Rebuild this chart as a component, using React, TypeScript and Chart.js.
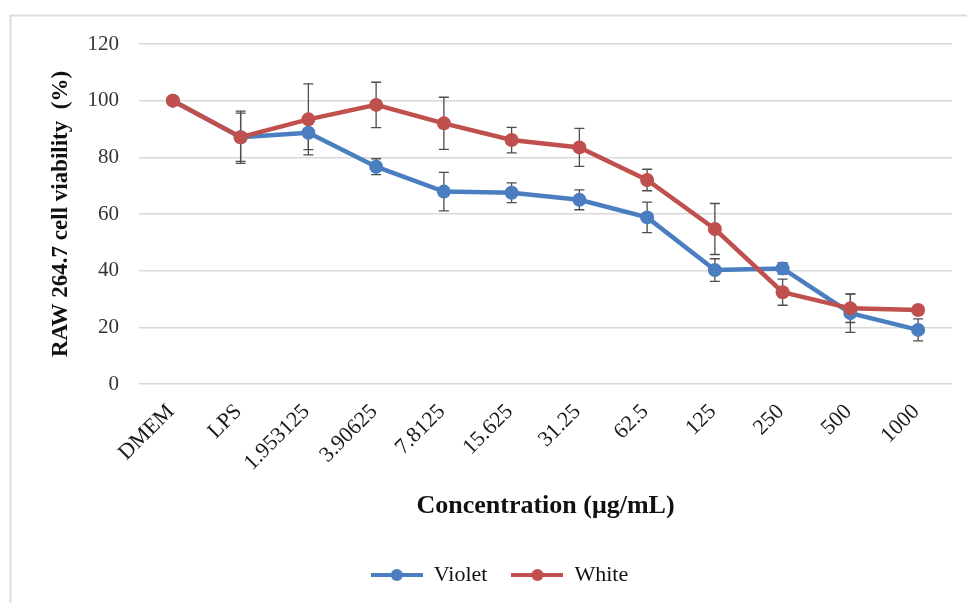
import React, { useEffect, useRef } from "react";
import { Chart, registerables } from "chart.js";

Chart.register(...registerables);

const categories = ["DMEM", "LPS", "1.953125", "3.90625", "7.8125", "15.625", "31.25", "62.5", "125", "250", "500", "1000"];
const violetValues = [100, 87.1, 88.7, 76.7, 67.9, 67.5, 65.0, 58.8, 40.2, 40.8, 25.0, 19.1];
const violetErrors = [0, 8.5, 6.0, 2.8, 6.8, 3.5, 3.5, 5.4, 4.0, 2.0, 6.8, 3.9];
const whiteValues = [100, 87.1, 93.4, 98.5, 92.0, 86.1, 83.5, 72.0, 54.7, 32.4, 26.7, 26.1];
const whiteErrors = [0, 9.2, 12.5, 8.0, 9.2, 4.5, 6.7, 3.8, 9.0, 4.6, 5.0, 1.5];
const yTicks = [0, 20, 40, 60, 80, 100, 120];

const BLUE = "#4A7EC0";
const RED = "#C0504D";
const SERIF = "'Liberation Serif', 'Times New Roman', serif";

// Legend icon: a short line with a round marker in the middle
function makeLegendIcon(color: string): HTMLCanvasElement {
  const c = document.createElement("canvas");
  c.width = 52;
  c.height = 14;
  const g = c.getContext("2d")!;
  g.strokeStyle = color;
  g.lineWidth = 4;
  g.beginPath();
  g.moveTo(0, 7);
  g.lineTo(52, 7);
  g.stroke();
  g.fillStyle = color;
  g.beginPath();
  g.arc(26, 7, 6, 0, Math.PI * 2);
  g.fill();
  return c;
}

// Vertical error bars with caps, drawn beneath the lines and markers
const errorBarPlugin = {
  id: "errorBars",
  beforeDatasetsDraw(chart: any) {
    const { ctx } = chart;
    const yScale = chart.scales.y;
    chart.data.datasets.forEach((ds: any, di: number) => {
      const meta = chart.getDatasetMeta(di);
      const errs: number[] = ds.errors || [];
      ctx.save();
      ctx.strokeStyle = "#4d4d4d";
      ctx.lineWidth = 1.3;
      meta.data.forEach((pt: any, i: number) => {
        const e = errs[i];
        if (!e) return;
        const v = ds.data[i];
        const yTop = yScale.getPixelForValue(v + e);
        const yBot = yScale.getPixelForValue(v - e);
        const x = pt.x;
        ctx.beginPath();
        ctx.moveTo(x, yTop);
        ctx.lineTo(x, yBot);
        ctx.moveTo(x - 5, yTop);
        ctx.lineTo(x + 5, yTop);
        ctx.moveTo(x - 5, yBot);
        ctx.lineTo(x + 5, yBot);
        ctx.stroke();
      });
      ctx.restore();
    });
  },
};

// Light frame around the whole figure
const framePlugin = {
  id: "frame",
  beforeDraw(chart: any) {
    const { ctx } = chart;
    ctx.save();
    ctx.strokeStyle = "#dcdcdc";
    ctx.lineWidth = 2;
    ctx.strokeRect(10.5, 15.5, 1400, 1400);
    ctx.restore();
  },
};

export default function App() {
  const canvasRef = useRef<HTMLCanvasElement | null>(null);

  useEffect(() => {
    if (!canvasRef.current) return;
    const icons = [makeLegendIcon(BLUE), makeLegendIcon(RED)];
    const chart = new Chart(canvasRef.current, {
      type: "line",
      data: {
        labels: categories,
        datasets: [
          {
            label: "Violet",
            data: violetValues,
            errors: violetErrors,
            borderColor: BLUE,
            backgroundColor: BLUE,
            pointBackgroundColor: BLUE,
            pointBorderColor: BLUE,
            borderWidth: 4.5,
            pointRadius: 7,
            pointBorderWidth: 0,
            tension: 0,
            order: 2,
          } as any,
          {
            label: "White",
            data: whiteValues,
            errors: whiteErrors,
            borderColor: RED,
            backgroundColor: RED,
            pointBackgroundColor: RED,
            pointBorderColor: RED,
            borderWidth: 4.5,
            pointRadius: 7,
            pointBorderWidth: 0,
            tension: 0,
            order: 1,
          } as any,
        ],
      },
      options: {
        responsive: false,
        animation: false,
        layout: { padding: { left: 47, right: 15, top: 44, bottom: 7 } },
        scales: {
          x: {
            offset: true,
            grid: { display: false, drawTicks: false },
            border: { display: false },
            ticks: {
              minRotation: 45,
              maxRotation: 45,
              autoSkip: false,
              padding: 15,
              labelOffset: -2,
              color: "#1a1a1a",
              font: { family: SERIF, size: 22 },
            },
            title: {
              display: true,
              text: "Concentration (μg/mL)",
              color: "#111",
              font: { family: SERIF, size: 26, weight: "bold" },
              padding: { top: 0, bottom: 18 },
            },
            afterFit(scale: any) {
              scale.height = 156;
            },
          },
          y: {
            min: 0,
            max: 120,
            afterBuildTicks(scale: any) {
              scale.ticks = yTicks.map((v) => ({ value: v }));
            },
            grid: { color: "#d9d9d9", lineWidth: 1.6, drawTicks: false },
            border: { display: false },
            ticks: {
              padding: 20,
              color: "#333",
              font: { family: SERIF, size: 21 },
            },
            title: {
              display: true,
              text: "RAW 264.7 cell viability  (%)",
              color: "#111",
              font: { family: SERIF, size: 23, weight: "bold" },
              padding: { top: 0, bottom: 0 },
            },
            afterFit(scale: any) {
              scale.width = 92;
            },
          },
        },
        plugins: {
          legend: {
            position: "bottom",
            labels: {
              usePointStyle: true,
              pointStyleWidth: 52,
              padding: 24,
              color: "#111",
              font: { family: SERIF, size: 22 },
              sort: (a: any, b: any) => a.datasetIndex - b.datasetIndex,
              generateLabels(chart: any) {
                const items = Chart.defaults.plugins.legend.labels.generateLabels(chart);
                items.forEach((it: any) => {
                  it.pointStyle = icons[it.datasetIndex];
                });
                return items;
              },
            },
          },
          tooltip: { enabled: false },
        },
      },
      plugins: [framePlugin, errorBarPlugin],
    });
    return () => chart.destroy();
  }, []);

  return (
    <div style={{ position: "absolute", left: 0, top: 0 }}>
      <canvas ref={canvasRef} width={967} height={603} style={{ display: "block" }} />
    </div>
  );
}
